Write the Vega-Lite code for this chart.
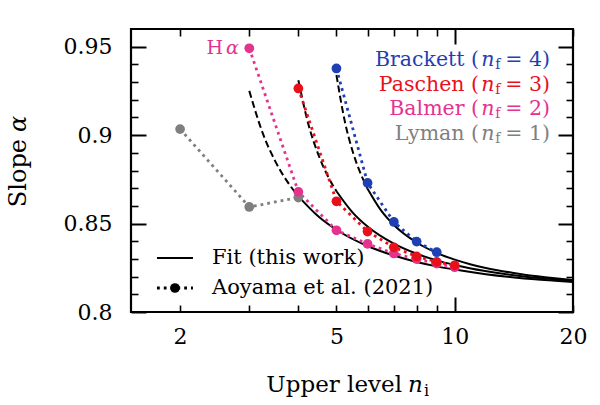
{
  "$schema": "https://vega.github.io/schema/vega-lite/v6.json",
  "width": 442,
  "height": 283,
  "autosize": "none",
  "padding": {"left": 131, "top": 29, "right": 27, "bottom": 93},
  "background": "white",
  "datasets": {
    "fit": [
      {"s": "Balmer", "g": "dashed", "n": 3, "a": 0.925},
      {"s": "Balmer", "g": "dashed", "n": 3.25, "a": 0.9008},
      {"s": "Balmer", "g": "dashed", "n": 3.5, "a": 0.8849},
      {"s": "Balmer", "g": "dashed", "n": 3.75, "a": 0.8737},
      {"s": "Balmer", "g": "dashed", "n": 4, "a": 0.8654},
      {"s": "Balmer", "g": "solid", "n": 4, "a": 0.8654},
      {"s": "Balmer", "g": "solid", "n": 4.5, "a": 0.854},
      {"s": "Balmer", "g": "solid", "n": 5, "a": 0.8465},
      {"s": "Balmer", "g": "solid", "n": 6, "a": 0.8373},
      {"s": "Balmer", "g": "solid", "n": 7, "a": 0.8319},
      {"s": "Balmer", "g": "solid", "n": 8, "a": 0.8283},
      {"s": "Balmer", "g": "solid", "n": 9, "a": 0.8258},
      {"s": "Balmer", "g": "solid", "n": 10, "a": 0.824},
      {"s": "Balmer", "g": "solid", "n": 12, "a": 0.8214},
      {"s": "Balmer", "g": "solid", "n": 14, "a": 0.8197},
      {"s": "Balmer", "g": "solid", "n": 16, "a": 0.8185},
      {"s": "Balmer", "g": "solid", "n": 18, "a": 0.8177},
      {"s": "Balmer", "g": "solid", "n": 20, "a": 0.817},
      {"s": "Paschen", "g": "dashed", "n": 4, "a": 0.931},
      {"s": "Paschen", "g": "dashed", "n": 4.25, "a": 0.9055},
      {"s": "Paschen", "g": "dashed", "n": 4.5, "a": 0.8888},
      {"s": "Paschen", "g": "dashed", "n": 4.75, "a": 0.877},
      {"s": "Paschen", "g": "dashed", "n": 5, "a": 0.8683},
      {"s": "Paschen", "g": "solid", "n": 5, "a": 0.8683},
      {"s": "Paschen", "g": "solid", "n": 5.5, "a": 0.8562},
      {"s": "Paschen", "g": "solid", "n": 6, "a": 0.8483},
      {"s": "Paschen", "g": "solid", "n": 7, "a": 0.8386},
      {"s": "Paschen", "g": "solid", "n": 8, "a": 0.8329},
      {"s": "Paschen", "g": "solid", "n": 9, "a": 0.8292},
      {"s": "Paschen", "g": "solid", "n": 10, "a": 0.8266},
      {"s": "Paschen", "g": "solid", "n": 11, "a": 0.8246},
      {"s": "Paschen", "g": "solid", "n": 13, "a": 0.8219},
      {"s": "Paschen", "g": "solid", "n": 15, "a": 0.8201},
      {"s": "Paschen", "g": "solid", "n": 17, "a": 0.8189},
      {"s": "Paschen", "g": "solid", "n": 20, "a": 0.8176},
      {"s": "Brackett", "g": "dashed", "n": 5, "a": 0.934},
      {"s": "Brackett", "g": "dashed", "n": 5.25, "a": 0.9079},
      {"s": "Brackett", "g": "dashed", "n": 5.5, "a": 0.8907},
      {"s": "Brackett", "g": "dashed", "n": 5.75, "a": 0.8787},
      {"s": "Brackett", "g": "dashed", "n": 6, "a": 0.8697},
      {"s": "Brackett", "g": "solid", "n": 6, "a": 0.8697},
      {"s": "Brackett", "g": "solid", "n": 6.5, "a": 0.8573},
      {"s": "Brackett", "g": "solid", "n": 7, "a": 0.8492},
      {"s": "Brackett", "g": "solid", "n": 8, "a": 0.8393},
      {"s": "Brackett", "g": "solid", "n": 9, "a": 0.8334},
      {"s": "Brackett", "g": "solid", "n": 10, "a": 0.8296},
      {"s": "Brackett", "g": "solid", "n": 11, "a": 0.8269},
      {"s": "Brackett", "g": "solid", "n": 12, "a": 0.8249},
      {"s": "Brackett", "g": "solid", "n": 14, "a": 0.8222},
      {"s": "Brackett", "g": "solid", "n": 16, "a": 0.8203},
      {"s": "Brackett", "g": "solid", "n": 18, "a": 0.8191},
      {"s": "Brackett", "g": "solid", "n": 20, "a": 0.8181}
    ],
    "obs": [
      {"s": "Lyman", "n": 2, "a": 0.9034},
      {"s": "Lyman", "n": 3, "a": 0.8594},
      {"s": "Lyman", "n": 4, "a": 0.8647},
      {"s": "Balmer", "n": 3, "a": 0.9491},
      {"s": "Balmer", "n": 4, "a": 0.8679},
      {"s": "Balmer", "n": 5, "a": 0.8462},
      {"s": "Balmer", "n": 6, "a": 0.8385},
      {"s": "Balmer", "n": 7, "a": 0.8331},
      {"s": "Balmer", "n": 8, "a": 0.8299},
      {"s": "Balmer", "n": 9, "a": 0.8274},
      {"s": "Balmer", "n": 10, "a": 0.8253},
      {"s": "Paschen", "n": 4, "a": 0.9264},
      {"s": "Paschen", "n": 5, "a": 0.8626},
      {"s": "Paschen", "n": 6, "a": 0.8455},
      {"s": "Paschen", "n": 7, "a": 0.8366},
      {"s": "Paschen", "n": 8, "a": 0.8314},
      {"s": "Paschen", "n": 9, "a": 0.8283},
      {"s": "Paschen", "n": 10, "a": 0.8264},
      {"s": "Brackett", "n": 5, "a": 0.9377},
      {"s": "Brackett", "n": 6, "a": 0.873},
      {"s": "Brackett", "n": 7, "a": 0.8509},
      {"s": "Brackett", "n": 8, "a": 0.8398},
      {"s": "Brackett", "n": 9, "a": 0.8338}
    ],
    "keys": [
      {"k": "fit", "n": 1.7468, "a": 0.83053},
      {"k": "fit", "n": 2.1567, "a": 0.83053},
      {"k": "obs", "n": 1.7468, "a": 0.81357},
      {"k": "obs", "n": 2.1567, "a": 0.81357}
    ],
    "keydot": [{"n": 1.9411, "a": 0.81357}],
    "keytext": [
      {"t": "Fit (this work)", "n": 2.4116, "a": 0.83053},
      {"t": "Aoyama et al. (2021)", "n": 2.4116, "a": 0.81357}
    ],
    "series": [
      {"s": "Brackett", "pre": "Brackett (", "nn": "n", "sub": "f", "suf": "= 4)", "n": 17.48, "a": 0.94247},
      {"s": "Paschen", "pre": "Paschen (", "nn": "n", "sub": "f", "suf": "= 3)", "n": 17.48, "a": 0.92862},
      {"s": "Balmer", "pre": "Balmer (", "nn": "n", "sub": "f", "suf": "= 2)", "n": 17.48, "a": 0.91466},
      {"s": "Lyman", "pre": "Lyman (", "nn": "n", "sub": "f", "suf": "= 1)", "n": 17.48, "a": 0.90064}
    ],
    "halpha": [{"s": "Balmer", "h": "H", "g": "α", "n": 2.6177, "a": 0.94909}],
    "xtitle": [{"t1": "Upper level", "t2": "n", "t3": "i", "n": 7.3418, "a": 0.75477}],
    "ytitle": [{"t1": "Slope", "t2": "α", "n": 0.7781, "a": 0.90007}]
  },
  "resolve": {"axis": {"x": "independent", "y": "independent"}},
  "layer": [
    {
      "data": {"name": "fit"},
      "transform": [{"filter": "datum.g == 'dashed'"}],
      "mark": {"type": "line", "color": "black", "strokeWidth": 2, "strokeDash": [7, 3.5], "interpolate": "monotone"},
      "encoding": {
        "x": {"field": "n", "type": "quantitative", "scale": {"type": "log", "domain": [1.5, 20], "nice": false},
          "axis": {"orient": "bottom", "values": [2, 5, 10, 20], "format": "~g", "ticks": false, "domain": false, "grid": false, "title": null, "labelPadding": 14, "labelFontSize": 22, "labelFont": "DejaVu Serif", "labelColor": "black", "labelFlush": false, "labelOverlap": false}},
        "y": {"field": "a", "type": "quantitative", "scale": {"domain": [0.8, 0.96], "nice": false, "zero": false},
          "axis": {"orient": "left", "values": [0.8, 0.85, 0.9, 0.95], "format": "~g", "ticks": false, "domain": false, "grid": false, "title": null, "labelPadding": 19, "labelFontSize": 22, "labelFont": "DejaVu Serif", "labelColor": "black", "labelFlush": false, "labelOverlap": false}},
        "detail": {"field": "s"}
      }
    },
    {
      "data": {"name": "fit"},
      "transform": [{"filter": "datum.g == 'solid'"}],
      "mark": {"type": "line", "color": "black", "strokeWidth": 2, "interpolate": "monotone"},
      "encoding": {
        "x": {"field": "n", "type": "quantitative", "scale": {"type": "log", "domain": [1.5, 20], "nice": false},
          "axis": {"orient": "bottom", "values": [10], "labels": false, "domain": false, "grid": false, "title": null, "tickSize": -15, "tickWidth": 2, "tickColor": "black"}},
        "y": {"field": "a", "type": "quantitative", "scale": {"domain": [0.8, 0.96], "nice": false, "zero": false},
          "axis": {"orient": "left", "values": [0.8, 0.85, 0.9, 0.95], "labels": false, "domain": false, "grid": false, "title": null, "tickSize": -15, "tickWidth": 2, "tickColor": "black"}},
        "detail": {"field": "s"}
      }
    },
    {
      "data": {"name": "obs"},
      "mark": {"type": "line", "strokeWidth": 2.8, "strokeDash": [2.8, 4]},
      "encoding": {
        "x": {"field": "n", "type": "quantitative", "scale": {"type": "log", "domain": [1.5, 20], "nice": false},
          "axis": {"orient": "bottom", "values": [2, 3, 4, 5, 6, 7, 8, 9, 20], "labels": false, "domain": false, "grid": false, "title": null, "tickSize": -7, "tickWidth": 1.6, "tickColor": "black"}},
        "y": {"field": "a", "type": "quantitative", "scale": {"domain": [0.8, 0.96], "nice": false, "zero": false},
          "axis": {"orient": "left", "values": [0.81, 0.82, 0.83, 0.84, 0.86, 0.87, 0.88, 0.89, 0.91, 0.92, 0.93, 0.94], "labels": false, "domain": false, "grid": false, "title": null, "tickSize": -7, "tickWidth": 1.6, "tickColor": "black"}},
        "color": {"field": "s", "type": "nominal", "scale": {"domain": ["Lyman", "Balmer", "Paschen", "Brackett"], "range": ["#7f7f7f", "#e3338f", "#e8101b", "#1f3fb4"]}, "legend": null}
      }
    },
    {
      "data": {"name": "obs"},
      "mark": {"type": "point", "filled": true, "opacity": 1, "size": 95},
      "encoding": {
        "x": {"field": "n", "type": "quantitative", "scale": {"type": "log", "domain": [1.5, 20], "nice": false},
          "axis": {"orient": "top", "values": [10], "labels": false, "domain": false, "grid": false, "title": null, "tickSize": -15, "tickWidth": 2, "tickColor": "black"}},
        "y": {"field": "a", "type": "quantitative", "scale": {"domain": [0.8, 0.96], "nice": false, "zero": false},
          "axis": {"orient": "right", "values": [0.8, 0.85, 0.9, 0.95], "labels": false, "domain": false, "grid": false, "title": null, "tickSize": -15, "tickWidth": 2, "tickColor": "black"}},
        "color": {"field": "s", "type": "nominal", "legend": null}
      }
    },
    {
      "data": {"name": "keys"},
      "transform": [{"filter": "datum.k == 'fit'"}],
      "mark": {"type": "line", "color": "black", "strokeWidth": 2},
      "encoding": {
        "x": {"field": "n", "type": "quantitative",
          "axis": {"orient": "top", "values": [2, 3, 4, 5, 6, 7, 8, 9, 20], "labels": false, "domain": false, "grid": false, "title": null, "tickSize": -7, "tickWidth": 1.6, "tickColor": "black"}},
        "y": {"field": "a", "type": "quantitative",
          "axis": {"orient": "right", "values": [0.81, 0.82, 0.83, 0.84, 0.86, 0.87, 0.88, 0.89, 0.91, 0.92, 0.93, 0.94], "labels": false, "domain": false, "grid": false, "title": null, "tickSize": -7, "tickWidth": 1.6, "tickColor": "black"}}
      }
    },
    {
      "data": {"name": "keys"},
      "transform": [{"filter": "datum.k == 'obs'"}],
      "mark": {"type": "line", "color": "black", "strokeWidth": 2.8, "strokeDash": [2.8, 4]},
      "encoding": {
        "x": {"field": "n", "type": "quantitative", "axis": null},
        "y": {"field": "a", "type": "quantitative", "axis": null}
      }
    },
    {
      "data": {"name": "keydot"},
      "mark": {"type": "point", "filled": true, "opacity": 1, "size": 95, "color": "black"},
      "encoding": {
        "x": {"field": "n", "type": "quantitative", "axis": null},
        "y": {"field": "a", "type": "quantitative", "axis": null}
      }
    },
    {
      "data": {"name": "keytext"},
      "mark": {"type": "text", "align": "left", "baseline": "middle", "font": "DejaVu Serif", "fontSize": 21, "color": "black"},
      "encoding": {
        "x": {"field": "n", "type": "quantitative", "axis": null},
        "y": {"field": "a", "type": "quantitative", "axis": null},
        "text": {"field": "t"}
      }
    },
    {
      "data": {"name": "series"},
      "mark": {"type": "text", "align": "right", "baseline": "middle", "font": "DejaVu Serif", "fontSize": 20.5, "dx": -71},
      "encoding": {
        "x": {"field": "n", "type": "quantitative", "axis": null},
        "y": {"field": "a", "type": "quantitative", "axis": null},
        "text": {"field": "pre"},
        "color": {"field": "s", "type": "nominal", "legend": null}
      }
    },
    {
      "data": {"name": "series"},
      "mark": {"type": "text", "align": "right", "baseline": "middle", "font": "DejaVu Serif", "fontStyle": "italic", "fontSize": 20.5, "dx": -55.5},
      "encoding": {
        "x": {"field": "n", "type": "quantitative", "axis": null},
        "y": {"field": "a", "type": "quantitative", "axis": null},
        "text": {"field": "nn"},
        "color": {"field": "s", "type": "nominal", "legend": null}
      }
    },
    {
      "data": {"name": "series"},
      "mark": {"type": "text", "align": "right", "baseline": "middle", "font": "DejaVu Serif", "fontSize": 14, "dx": -49.5, "dy": 5},
      "encoding": {
        "x": {"field": "n", "type": "quantitative", "axis": null},
        "y": {"field": "a", "type": "quantitative", "axis": null},
        "text": {"field": "sub"},
        "color": {"field": "s", "type": "nominal", "legend": null}
      }
    },
    {
      "data": {"name": "series"},
      "mark": {"type": "text", "align": "right", "baseline": "middle", "font": "DejaVu Serif", "fontSize": 20.5},
      "encoding": {
        "x": {"field": "n", "type": "quantitative", "axis": null},
        "y": {"field": "a", "type": "quantitative", "axis": null},
        "text": {"field": "suf"},
        "color": {"field": "s", "type": "nominal", "legend": null}
      }
    },
    {
      "data": {"name": "halpha"},
      "mark": {"type": "text", "align": "right", "baseline": "middle", "font": "DejaVu Serif", "fontSize": 19, "dx": -3},
      "encoding": {
        "x": {"field": "n", "type": "quantitative", "axis": null},
        "y": {"field": "a", "type": "quantitative", "axis": null},
        "text": {"field": "h"},
        "color": {"field": "s", "type": "nominal", "legend": null}
      }
    },
    {
      "data": {"name": "halpha"},
      "mark": {"type": "text", "align": "left", "baseline": "middle", "font": "DejaVu Serif", "fontStyle": "italic", "fontSize": 19},
      "encoding": {
        "x": {"field": "n", "type": "quantitative", "axis": null},
        "y": {"field": "a", "type": "quantitative", "axis": null},
        "text": {"field": "g"},
        "color": {"field": "s", "type": "nominal", "legend": null}
      }
    },
    {
      "data": {"name": "xtitle"},
      "mark": {"type": "text", "align": "right", "baseline": "alphabetic", "font": "DejaVu Serif", "fontSize": 23, "color": "black"},
      "encoding": {
        "x": {"field": "n", "type": "quantitative", "axis": null},
        "y": {"field": "a", "type": "quantitative", "axis": null},
        "text": {"field": "t1"}
      }
    },
    {
      "data": {"name": "xtitle"},
      "mark": {"type": "text", "align": "left", "baseline": "alphabetic", "font": "DejaVu Serif", "fontStyle": "italic", "fontSize": 23, "color": "black", "dx": 6},
      "encoding": {
        "x": {"field": "n", "type": "quantitative", "axis": null},
        "y": {"field": "a", "type": "quantitative", "axis": null},
        "text": {"field": "t2"}
      }
    },
    {
      "data": {"name": "xtitle"},
      "mark": {"type": "text", "align": "left", "baseline": "alphabetic", "font": "DejaVu Serif", "fontSize": 16, "color": "black", "dx": 22, "dy": 4},
      "encoding": {
        "x": {"field": "n", "type": "quantitative", "axis": null},
        "y": {"field": "a", "type": "quantitative", "axis": null},
        "text": {"field": "t3"}
      }
    },
    {
      "data": {"name": "ytitle"},
      "mark": {"type": "text", "align": "right", "baseline": "middle", "angle": 270, "font": "DejaVu Serif", "fontSize": 24, "color": "black", "dx": -4},
      "encoding": {
        "x": {"field": "n", "type": "quantitative", "axis": null},
        "y": {"field": "a", "type": "quantitative", "axis": null},
        "text": {"field": "t1"}
      }
    },
    {
      "data": {"name": "ytitle"},
      "mark": {"type": "text", "align": "left", "baseline": "middle", "angle": 270, "font": "DejaVu Serif", "fontStyle": "italic", "fontSize": 24, "color": "black", "dx": 3},
      "encoding": {
        "x": {"field": "n", "type": "quantitative", "axis": null},
        "y": {"field": "a", "type": "quantitative", "axis": null},
        "text": {"field": "t2"}
      }
    }
  ],
  "config": {
    "view": {"stroke": "black", "strokeWidth": 2.2},
    "axis": {"grid": false, "domain": false, "tickColor": "black"},
    "font": "DejaVu Serif"
  }
}
